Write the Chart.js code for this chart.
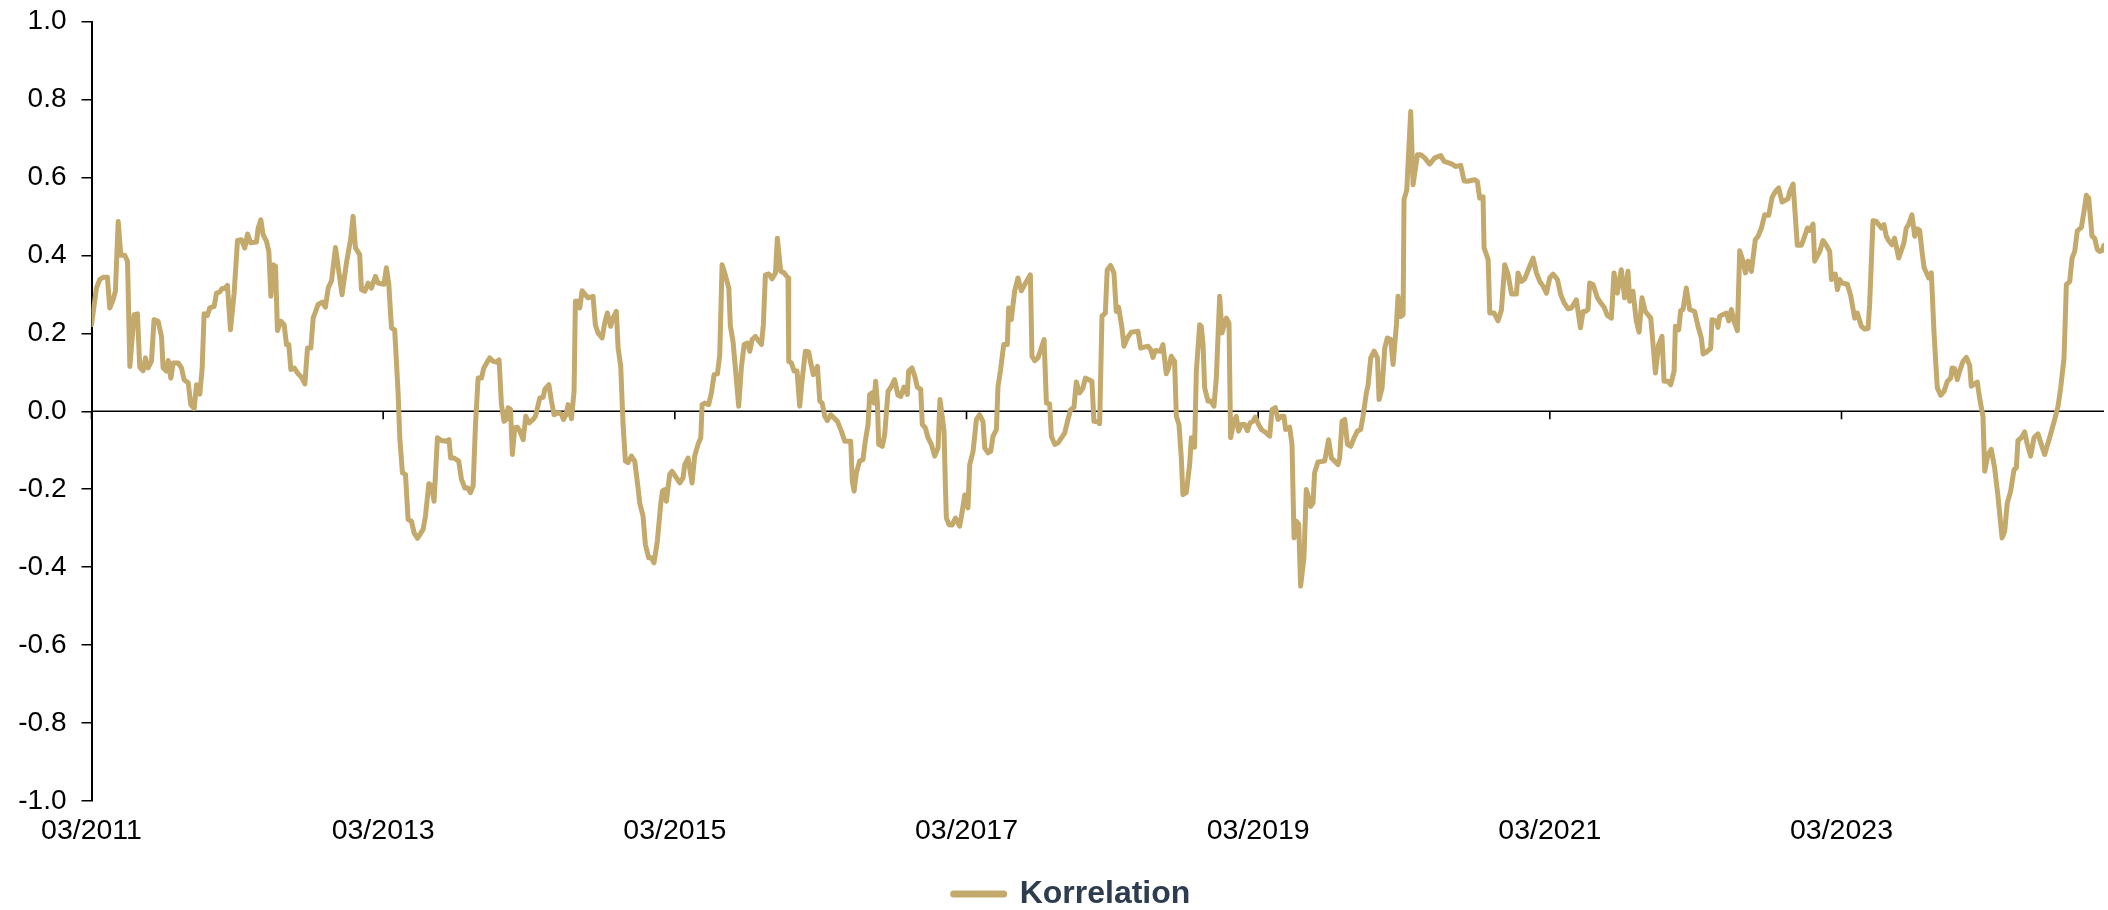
<!DOCTYPE html>
<html lang="de">
<head>
  <meta charset="UTF-8" />
  <title>Korrelation</title>
  <script src="https://cdn.jsdelivr.net/npm/chart.js"></script>
  <style>
    body {
      margin: 0;
      padding: 0;
      background: #ffffff;
    }
    #wrap {
      width: 2108px;
      height: 910px;
    }
  </style>
</head>
<body>
  <div id="wrap">
    <canvas id="corrChart" width="2108" height="910"></canvas>
  </div>

  <script>
    // x in decimal years
    const dates = [
      2011.2, 2011.234, 2011.257, 2011.280, 2011.309, 2011.325, 2011.348, 2011.364, 2011.383, 2011.401,
      2011.428, 2011.447, 2011.463, 2011.492, 2011.515, 2011.531, 2011.554, 2011.570, 2011.588, 2011.611,
      2011.629, 2011.657, 2011.680, 2011.691, 2011.714, 2011.726, 2011.744, 2011.760, 2011.794, 2011.817,
      2011.835, 2011.863, 2011.881, 2011.904, 2011.920, 2011.943, 2011.959, 2011.972, 2011.995, 2012.011,
      2012.041, 2012.057, 2012.080, 2012.096, 2012.114, 2012.132, 2012.153, 2012.178, 2012.201, 2012.228,
      2012.251, 2012.270, 2012.292, 2012.331, 2012.343, 2012.361, 2012.377, 2012.400, 2012.416, 2012.430,
      2012.446, 2012.462, 2012.475, 2012.498, 2012.521, 2012.537, 2012.553, 2012.567, 2012.590, 2012.617,
      2012.640, 2012.663, 2012.681, 2012.704, 2012.720, 2012.754, 2012.782, 2012.804, 2012.823, 2012.846,
      2012.873,
      2012.918, 2012.948, 2012.978, 2012.994, 2013.010, 2013.039, 2013.051, 2013.074, 2013.097, 2013.119,
      2013.147, 2013.165, 2013.206, 2013.222, 2013.238, 2013.257, 2013.279, 2013.302, 2013.314, 2013.332,
      2013.353, 2013.371, 2013.394, 2013.412, 2013.435, 2013.474, 2013.490, 2013.513, 2013.531, 2013.549,
      2013.572, 2013.599, 2013.634, 2013.652, 2013.663, 2013.686, 2013.718, 2013.737, 2013.760, 2013.782,
      2013.798, 2013.817, 2013.833, 2013.851, 2013.874, 2013.890, 2013.913, 2013.931, 2013.954, 2013.977,
      2013.995, 2014.011, 2014.029, 2014.045, 2014.057, 2014.073, 2014.086, 2014.102, 2014.121, 2014.137,
      2014.160, 2014.178, 2014.201, 2014.228, 2014.244, 2014.274, 2014.297, 2014.308, 2014.336, 2014.354,
      2014.372, 2014.400, 2014.422, 2014.436, 2014.454, 2014.468, 2014.491, 2014.509, 2014.518, 2014.537,
      2014.548, 2014.564,
      2014.605, 2014.639, 2014.655, 2014.673, 2014.701, 2014.719, 2014.737, 2014.760, 2014.776, 2014.799,
      2014.811, 2014.829, 2014.845, 2014.861, 2014.879, 2014.902, 2014.925, 2014.948, 2014.959, 2014.982,
      2014.998, 2015.021, 2015.039, 2015.057, 2015.080, 2015.103, 2015.115, 2015.131, 2015.142, 2015.165,
      2015.181, 2015.204, 2015.234, 2015.256, 2015.268, 2015.291, 2015.318, 2015.336, 2015.359, 2015.378,
      2015.387, 2015.405, 2015.432, 2015.451, 2015.469, 2015.492, 2015.508, 2015.524, 2015.542, 2015.570,
      2015.581, 2015.599, 2015.615, 2015.638, 2015.656, 2015.675, 2015.698, 2015.714, 2015.730, 2015.752,
      2015.794, 2015.807, 2015.821, 2015.844, 2015.867, 2015.890, 2015.903, 2015.926, 2015.949, 2015.976,
      2015.981, 2015.999, 2016.018, 2016.038, 2016.056, 2016.072, 2016.095, 2016.118, 2016.132, 2016.150,
      2016.178, 2016.194, 2016.210, 2016.228, 2016.246, 2016.269, 2016.315,
      2016.342, 2016.365, 2016.406, 2016.417, 2016.429, 2016.445, 2016.467, 2016.490, 2016.506, 2016.525,
      2016.536, 2016.552, 2016.566, 2016.577, 2016.589, 2016.598, 2016.623, 2016.639, 2016.662, 2016.685,
      2016.707, 2016.730, 2016.749, 2016.771, 2016.794, 2016.803, 2016.826, 2016.845, 2016.863, 2016.886,
      2016.897, 2016.918, 2016.936, 2016.959, 2016.982, 2017.005, 2017.018, 2017.032, 2017.046, 2017.055,
      2017.062, 2017.080, 2017.101, 2017.124, 2017.153, 2017.169, 2017.188, 2017.210, 2017.222, 2017.245,
      2017.268, 2017.290, 2017.313, 2017.325, 2017.348, 2017.366, 2017.382, 2017.405, 2017.416, 2017.434,
      2017.455, 2017.480, 2017.489, 2017.507, 2017.530, 2017.553, 2017.576, 2017.599, 2017.638, 2017.649,
      2017.668, 2017.690, 2017.713, 2017.732, 2017.748, 2017.770, 2017.782, 2017.805, 2017.828, 2017.873,
      2017.896, 2017.914, 2017.937, 2017.953, 2017.976, 2017.999, 2018.015,
      2018.060, 2018.074, 2018.101, 2018.113, 2018.129, 2018.152, 2018.165, 2018.188, 2018.211, 2018.227,
      2018.243, 2018.266, 2018.280, 2018.303, 2018.330, 2018.376, 2018.394, 2018.444, 2018.463, 2018.479,
      2018.495, 2018.531, 2018.547, 2018.570, 2018.586, 2018.604, 2018.627, 2018.639, 2018.657, 2018.673,
      2018.684, 2018.707, 2018.730, 2018.742, 2018.764, 2018.776, 2018.799, 2018.810, 2018.822, 2018.833,
      2018.856, 2018.874, 2018.897, 2018.913, 2018.936, 2018.952, 2018.982, 2019.000, 2019.011, 2019.034,
      2019.050, 2019.066, 2019.084, 2019.107, 2019.126, 2019.144, 2019.164, 2019.180, 2019.203, 2019.222,
      2019.256, 2019.279, 2019.295, 2019.318, 2019.336, 2019.359, 2019.377, 2019.388, 2019.416, 2019.432,
      2019.446, 2019.462, 2019.478, 2019.491, 2019.514, 2019.530, 2019.546, 2019.560, 2019.576, 2019.587,
      2019.610, 2019.656, 2019.683, 2019.702, 2019.724, 2019.747,
      2019.759, 2019.775, 2019.794, 2019.812, 2019.835, 2019.858, 2019.880, 2019.903, 2019.919, 2019.942,
      2019.954, 2019.972, 2019.995, 2020.018, 2020.029, 2020.050, 2020.068, 2020.086, 2020.109, 2020.125,
      2020.148, 2020.159, 2020.178, 2020.194, 2020.200, 2020.219, 2020.246, 2020.262, 2020.292, 2020.315,
      2020.342, 2020.376, 2020.411, 2020.452, 2020.475, 2020.502, 2020.530, 2020.553, 2020.589, 2020.612,
      2020.635, 2020.685, 2020.703, 2020.719, 2020.742, 2020.749, 2020.777, 2020.788, 2020.818, 2020.845,
      2020.868, 2020.891, 2020.914, 2020.937, 2020.971, 2020.982, 2021.005, 2021.028, 2021.062, 2021.085,
      2021.108, 2021.131, 2021.154, 2021.177, 2021.199, 2021.222, 2021.252, 2021.275, 2021.298, 2021.325,
      2021.348, 2021.382, 2021.410, 2021.428, 2021.444,
      2021.462, 2021.473, 2021.496, 2021.526, 2021.549, 2021.572, 2021.594, 2021.622, 2021.640, 2021.663,
      2021.690, 2021.713, 2021.736, 2021.748, 2021.770, 2021.793, 2021.812, 2021.832, 2021.855, 2021.892,
      2021.908, 2021.924, 2021.946, 2021.969, 2021.983, 2022.011, 2022.029, 2022.052, 2022.061, 2022.084,
      2022.097, 2022.113, 2022.136, 2022.159, 2022.193, 2022.216, 2022.239, 2022.251, 2022.273, 2022.303,
      2022.312, 2022.342, 2022.353, 2022.365, 2022.388, 2022.411, 2022.427, 2022.445, 2022.463, 2022.486,
      2022.502, 2022.525, 2022.541, 2022.559, 2022.582, 2022.609, 2022.628, 2022.651, 2022.673, 2022.701,
      2022.724, 2022.747, 2022.769, 2022.792, 2022.833, 2022.845, 2022.868, 2022.897, 2022.925, 2022.943,
      2022.966, 2022.982, 2023.005, 2023.016, 2023.051, 2023.073, 2023.096, 2023.119, 2023.131, 2023.158,
      2023.172, 2023.188,
      2023.203, 2023.240, 2023.263, 2023.290, 2023.308, 2023.336, 2023.359, 2023.382, 2023.393, 2023.416,
      2023.439, 2023.473, 2023.491, 2023.507, 2023.523, 2023.546, 2023.564, 2023.592, 2023.610, 2023.628,
      2023.644, 2023.660, 2023.683, 2023.702, 2023.720, 2023.736, 2023.752, 2023.766, 2023.798, 2023.816,
      2023.834, 2023.843, 2023.857, 2023.880, 2023.903, 2023.926, 2023.949, 2023.958, 2023.976, 2023.994,
      2024.010, 2024.033, 2024.056, 2024.079, 2024.090, 2024.131, 2024.147, 2024.170, 2024.182, 2024.205,
      2024.227, 2024.250, 2024.273, 2024.301, 2024.319, 2024.337, 2024.360, 2024.383, 2024.399, 2024.410,
      2024.433, 2024.456, 2024.474, 2024.497, 2024.520, 2024.547, 2024.570, 2024.593, 2024.627, 2024.662,
      2024.685, 2024.703, 2024.726, 2024.742, 2024.765, 2024.781, 2024.799, 2024.817, 2024.845, 2024.863,
      2024.879, 2024.895, 2024.918, 2024.936, 2024.954, 2024.970, 2024.986, 2025.000
    ];

    const korrelation = [
      0.222, 0.316, 0.338, 0.344, 0.344, 0.265, 0.286, 0.308, 0.487, 0.40,
      0.40, 0.385, 0.115, 0.248, 0.25, 0.113, 0.104, 0.137, 0.111, 0.128,
      0.235, 0.231, 0.192, 0.111, 0.103, 0.13, 0.085, 0.124, 0.124, 0.111,
      0.081, 0.073, 0.017, 0.007, 0.068, 0.044, 0.111, 0.25, 0.246, 0.265,
      0.269, 0.303, 0.306, 0.315, 0.315, 0.323, 0.209, 0.303, 0.438, 0.44,
      0.419, 0.455, 0.432, 0.434, 0.47, 0.491, 0.453, 0.436, 0.41, 0.295,
      0.376, 0.372, 0.207, 0.231, 0.222, 0.171, 0.171, 0.107, 0.111, 0.096,
      0.087, 0.07, 0.162, 0.162, 0.239, 0.274, 0.28, 0.267, 0.316, 0.335,
      0.42,
      0.299, 0.38, 0.444, 0.5, 0.419, 0.402, 0.312, 0.308, 0.329, 0.316,
      0.346, 0.329, 0.326, 0.368, 0.329, 0.214, 0.209, 0.051, -0.068, -0.158,
      -0.162, -0.278, -0.282, -0.312, -0.326, -0.303, -0.269, -0.186, -0.19, -0.231,
      -0.068, -0.075, -0.077, -0.073, -0.12, -0.12, -0.128, -0.175, -0.197, -0.197,
      -0.209, -0.192, -0.034, 0.085, 0.085, 0.111, 0.126, 0.137, 0.128, 0.126,
      0.132, 0.017, -0.026, -0.021, 0.009, 0.005, -0.111, -0.043, -0.041, -0.051,
      -0.073, -0.013, -0.03, -0.021, -0.013, 0.034, 0.036, 0.056, 0.068, 0.026,
      -0.009, -0.004, -0.007, -0.021, -0.009, 0.017, -0.019, 0.051, 0.282, 0.282,
      0.265, 0.309,
      0.291, 0.295, 0.222, 0.201, 0.188, 0.226, 0.252, 0.218, 0.239, 0.256,
      0.162, 0.115, -0.034, -0.128, -0.132, -0.115, -0.128, -0.197, -0.235, -0.269,
      -0.342, -0.376, -0.376, -0.389, -0.333, -0.239, -0.205, -0.201, -0.231, -0.162,
      -0.154, -0.167, -0.184, -0.171, -0.137, -0.12, -0.184, -0.115, -0.085, -0.068,
      0.017, 0.021, 0.017, 0.047, 0.094, 0.096, 0.145, 0.376, 0.355, 0.316,
      0.218, 0.179, 0.111, 0.013, 0.111, 0.171, 0.175, 0.154, 0.184, 0.192,
      0.171, 0.222, 0.35, 0.352, 0.34, 0.355, 0.444, 0.359, 0.355, 0.342,
      0.128, 0.124, 0.103, 0.103, 0.013, 0.077, 0.154, 0.152, 0.124, 0.094,
      0.115, 0.026, 0.021, -0.013, -0.024, -0.009, -0.026,
      -0.051, -0.077, -0.077, -0.179, -0.205, -0.158, -0.128, -0.124, -0.077, -0.034,
      0.043, 0.047, 0.021, 0.077, 0.021, -0.085, -0.09, -0.06, 0.051, 0.064,
      0.081, 0.041, 0.038, 0.062, 0.043, 0.103, 0.111, 0.09, 0.062, 0.056,
      -0.034, -0.043, -0.068, -0.085, -0.115, -0.094, 0.03, -0.009, -0.051, -0.188,
      -0.274, -0.291, -0.292, -0.274, -0.295, -0.261, -0.215, -0.248, -0.137, -0.103,
      -0.021, -0.009, -0.026, -0.094, -0.107, -0.103, -0.064, -0.047, 0.064, 0.107,
      0.171, 0.171, 0.265, 0.235, 0.308, 0.342, 0.309, 0.325, 0.35, 0.141,
      0.13, 0.137, 0.162, 0.184, 0.021, 0.019, -0.064, -0.085, -0.081, -0.056,
      -0.021, 0.004, 0.01, 0.075, 0.047, 0.06, 0.085,
      0.077, -0.026, -0.027, -0.032, 0.244, 0.252, 0.363, 0.374, 0.355, 0.256,
      0.267, 0.214, 0.167, 0.188, 0.203, 0.205, 0.162, 0.167, 0.158, 0.138,
      0.156, 0.154, 0.171, 0.096, 0.111, 0.141, 0.128, -0.013, -0.034, -0.12,
      -0.214, -0.209, -0.137, -0.068, -0.092, 0.103, 0.222, 0.218, 0.171, 0.06,
      0.026, 0.026, 0.013, 0.085, 0.295, 0.201, 0.239, 0.226, -0.068, -0.026,
      -0.013, -0.051, -0.034, -0.034, -0.05, -0.03, -0.026, -0.015, -0.034, -0.047,
      -0.056, -0.064, 0.004, 0.009, -0.021, -0.013, -0.013, -0.047, -0.041, -0.085,
      -0.325, -0.282, -0.29, -0.449, -0.376, -0.201, -0.222, -0.244, -0.235, -0.158,
      -0.13, -0.128, -0.073, -0.12, -0.128, -0.137,
      -0.12, -0.026, -0.021, -0.085, -0.09, -0.068, -0.051, -0.047, -0.013, 0.047,
      0.068, 0.137, 0.154, 0.137, 0.03, 0.06, 0.162, 0.188, 0.184, 0.12,
      0.222, 0.295, 0.243, 0.248, 0.543, 0.568, 0.769, 0.581, 0.658, 0.658,
      0.65, 0.634, 0.65, 0.656, 0.641, 0.638, 0.634, 0.628, 0.631, 0.591,
      0.59, 0.594, 0.59, 0.547, 0.55, 0.419, 0.389, 0.252, 0.252, 0.232,
      0.26, 0.376, 0.35, 0.301, 0.301, 0.355, 0.333, 0.34, 0.372, 0.393,
      0.355, 0.333, 0.321, 0.303, 0.342, 0.352, 0.338, 0.299, 0.278, 0.263,
      0.265, 0.286, 0.214, 0.256, 0.256,
      0.261, 0.329, 0.325, 0.291, 0.278, 0.267, 0.246, 0.239, 0.355, 0.303,
      0.363, 0.291, 0.359, 0.282, 0.308, 0.231, 0.203, 0.291, 0.256, 0.239,
      0.171, 0.098, 0.171, 0.192, 0.077, 0.077, 0.068, 0.103, 0.218, 0.209,
      0.258, 0.261, 0.316, 0.261, 0.256, 0.218, 0.188, 0.147, 0.152, 0.161,
      0.235, 0.232, 0.215, 0.244, 0.248, 0.252, 0.232, 0.261, 0.231, 0.207,
      0.412, 0.385, 0.355, 0.385, 0.359, 0.44, 0.449, 0.47, 0.504, 0.503,
      0.549, 0.564, 0.573, 0.537, 0.545, 0.564, 0.583, 0.426, 0.426, 0.444,
      0.47, 0.464, 0.48, 0.385, 0.41, 0.438, 0.426, 0.41, 0.338, 0.352,
      0.312, 0.338,
      0.329, 0.326, 0.297, 0.239, 0.252, 0.218, 0.211, 0.212, 0.274, 0.489,
      0.487, 0.47, 0.479, 0.449, 0.438, 0.427, 0.444, 0.393, 0.412, 0.432,
      0.47, 0.479, 0.504, 0.449, 0.468, 0.464, 0.41, 0.369, 0.342, 0.355,
      0.205, 0.145, 0.06, 0.041, 0.051, 0.077, 0.085, 0.111, 0.109, 0.081,
      0.103, 0.128, 0.138, 0.118, 0.064, 0.075, 0.034, -0.013, -0.154, -0.111,
      -0.098, -0.145, -0.218, -0.325, -0.308, -0.235, -0.205, -0.15, -0.145, -0.075,
      -0.068, -0.053, -0.085, -0.115, -0.068, -0.058, -0.085, -0.111, -0.068, -0.021,
      0.013, 0.06, 0.137, 0.325, 0.333, 0.393, 0.41, 0.463, 0.472, 0.513,
      0.554, 0.547, 0.449, 0.444, 0.415, 0.41, 0.412, 0.426
    ];

    const xTickValues = [2011.2, 2013.2, 2015.2, 2017.2, 2019.2, 2021.2, 2023.2];
    const xTickLabels = ['03/2011', '03/2013', '03/2015', '03/2017', '03/2019', '03/2021', '03/2023'];
    const yTickValues = [-1, -0.8, -0.6, -0.4, -0.2, 0, 0.2, 0.4, 0.6, 0.8, 1];
    const yTickLabels = ['-1.0', '-0.8', '-0.6', '-0.4', '-0.2', '0.0', '0.2', '0.4', '0.6', '0.8', '1.0'];

    const seriesName = 'Korrelation';
    const gold = '#c3a96b';

    if (dates.length !== korrelation.length) {
      console.error('length mismatch', dates.length, korrelation.length);
    }

    const points = dates.map((d, i) => ({ x: d, y: korrelation[i] }));

    // zero line across the plot plus the small date ticks hanging from it
    const zeroAxis = {
      id: 'zeroAxis',
      beforeDatasetsDraw(chart) {
        const { ctx, chartArea, scales } = chart;
        const y0 = scales.y.getPixelForValue(0);
        ctx.save();
        ctx.strokeStyle = '#000';
        ctx.lineWidth = 1.6;
        ctx.beginPath();
        ctx.moveTo(chartArea.left, y0);
        ctx.lineTo(chartArea.right, y0);
        xTickValues.forEach(v => {
          const px = scales.x.getPixelForValue(v);
          ctx.moveTo(px, y0);
          ctx.lineTo(px, y0 + 8);
        });
        ctx.stroke();
        ctx.restore();
      }
    };

    // legend sits a little right of the canvas centre in the original
    const legendNudge = {
      id: 'legendNudge',
      afterLayout(chart) {
        if (chart.legend) chart.legend.left += 40;
      }
    };

    Chart.defaults.font.family = "'Liberation Sans', Arial, sans-serif";

    const ctx = document.getElementById('corrChart').getContext('2d');

    new Chart(ctx, {
      type: 'line',
      data: {
        datasets: [{
          label: seriesName,
          data: points,
          borderColor: gold,
          backgroundColor: gold,
          borderWidth: 5,
          borderJoinStyle: 'round',
          borderCapStyle: 'round',
          pointRadius: 0,
          pointStyle: 'line',
          tension: 0,
          fill: false
        }]
      },
      options: {
        responsive: false,
        animation: false,
        layout: {
          padding: { top: 21.5, right: 4, bottom: -10, left: 0 }
        },
        scales: {
          x: {
            type: 'linear',
            min: 2011.2,
            max: 2025.0,
            afterBuildTicks: s => { s.ticks = xTickValues.map(v => ({ value: v })); },
            afterFit: s => { s.height = 77; },
            ticks: {
              autoSkip: false,
              maxRotation: 0,
              padding: 13,
              color: '#000',
              font: { size: 28.5 },
              callback: (v, i) => xTickLabels[i]
            },
            grid: { display: false, drawTicks: false },
            border: { display: false }
          },
          y: {
            min: -1,
            max: 1,
            afterBuildTicks: s => { s.ticks = yTickValues.map(v => ({ value: v })); },
            afterFit: s => {
              s.width = 91.5;
              s.paddingTop = 0;
              s.paddingBottom = 0;
            },
            ticks: {
              padding: 15,
              color: '#000',
              font: { size: 28 },
              callback: (v, i) => yTickLabels[i]
            },
            grid: {
              drawOnChartArea: false,
              drawTicks: true,
              tickLength: 10,
              color: '#000',
              lineWidth: 1.5
            },
            border: { display: true, color: '#000', width: 2 }
          }
        },
        plugins: {
          tooltip: { enabled: false },
          legend: {
            position: 'bottom',
            labels: {
              usePointStyle: true,
              pointStyleWidth: 50,
              padding: 0,
              color: '#2d3d4f',
              font: { size: 32, weight: 'bold' },
              generateLabels: chart => {
                const items = Chart.defaults.plugins.legend.labels.generateLabels(chart);
                items.forEach(it => { it.lineWidth = 7; it.lineCap = 'round'; });
                return items;
              }
            }
          }
        }
      },
      plugins: [zeroAxis, legendNudge]
    });
  </script>
</body>
</html>
